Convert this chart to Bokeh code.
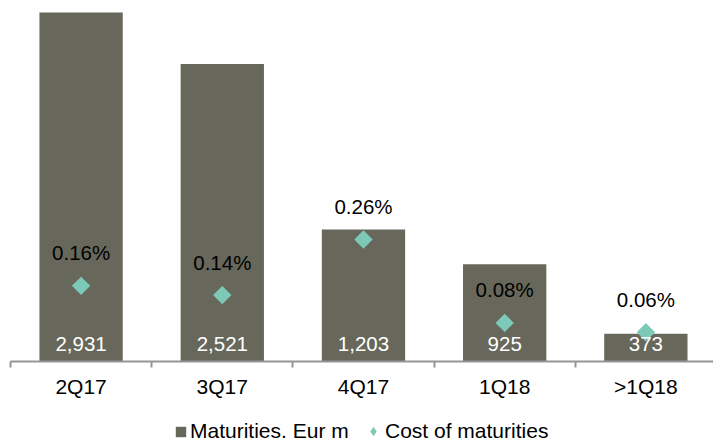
import numpy as np
from bokeh.plotting import figure
from bokeh.layouts import column
from bokeh.models import ColumnDataSource, Range1d, FixedTicker, Legend, LegendItem, LinearAxis
from bokeh.core.properties import value
from bokeh.embed import file_html
from bokeh.resources import INLINE

# ---- data ----
categories = ["2Q17", "3Q17", "4Q17", "1Q18", ">1Q18"]
maturities = [2931, 2521, 1203, 925, 373]          # Eur m
cost_pct = [0.16, 0.14, 0.26, 0.08, 0.06]           # %
series_names = ["Maturities. Eur m", "Cost of maturities"]

FONT = "Liberation Sans"
BAR = "#67675B"
TEAL = "#7DC9B8"
AXIS = "#959595"

x = list(range(len(categories)))
y_start = 151
src = ColumnDataSource(dict(
    x=x, mat=maturities, cost=cost_pct,
    base=[y_start] * len(x),
    mat_label=[f"{v:,}" for v in maturities],
    cost_label=[f"{c:.2f}%" for c in cost_pct],
))

H_MAIN = 412
p = figure(width=713, height=H_MAIN, output_backend="svg", toolbar_location=None,
           x_range=Range1d(-0.5, 4.479), y_range=Range1d(y_start, 3027),
           min_border_left=10, min_border_right=0, min_border_top=0,
           min_border_bottom=H_MAIN - 361,
           x_axis_location=None, y_axis_location=None)
p.extra_y_ranges = {"pct": Range1d(-0.0032, 0.7753)}
p.outline_line_color = None
p.grid.visible = False

p.vbar(x="x", top="mat", bottom="base", width=0.59, source=src,
       fill_color=BAR, line_color=None)
p.scatter(x="x", y="cost", source=src, y_range_name="pct", marker="square",
          angle=np.pi / 4, size=13, fill_color=TEAL, line_color=None)

p.text(x="x", y="base", text="mat_label", source=src, text_align="center",
       text_baseline="middle", y_offset=-18, text_color="white",
       text_font=value(FONT), text_font_size="20.5px")
p.text(x="x", y="cost", text="cost_label", source=src, y_range_name="pct",
       text_align="center", text_baseline="middle", y_offset=-33, text_color="black",
       text_font=value(FONT), text_font_size="20.5px")

xaxis = LinearAxis(ticker=FixedTicker(ticks=x, minor_ticks=[i - 0.5 for i in range(len(x) + 1)]),
                   major_label_overrides={i: c for i, c in enumerate(categories)})
xaxis.axis_line_color = AXIS
xaxis.axis_line_width = 2
xaxis.major_tick_line_color = None
xaxis.major_tick_out = 0
xaxis.major_tick_in = 0
xaxis.minor_tick_line_color = AXIS
xaxis.minor_tick_line_width = 2
xaxis.minor_tick_out = 6
xaxis.minor_tick_in = 0
xaxis.major_label_standoff = 7
xaxis.major_label_text_font = FONT
xaxis.major_label_text_font_size = "21px"
xaxis.major_label_text_color = "black"
p.add_layout(xaxis, "below")

# ---- legend strip (renderers share the data but lie outside this strip's view) ----
H_LEG = 444 - H_MAIN
lg = figure(width=713, height=H_LEG, output_backend="svg", toolbar_location=None,
            x_range=Range1d(-3, -2), y_range=Range1d(-3, -2),
            min_border_left=0, min_border_right=0, min_border_top=0, min_border_bottom=0,
            x_axis_location=None, y_axis_location=None)
lg.outline_line_color = None
lg.grid.visible = False
r_bar = lg.vbar(x="x", top="mat", bottom="base", width=0.59, source=src,
                fill_color=BAR, line_color=None)
r_dot = lg.scatter(x="x", y="cost", source=src, marker="diamond", size=13,
                   fill_color=TEAL, line_color=None)

common = dict(orientation="horizontal", padding=0, margin=0, border_line_color=None,
              background_fill_alpha=0, label_text_font=FONT, label_text_font_size="21px",
              label_text_color="black")
leg_a = Legend(items=[LegendItem(label=series_names[0], renderers=[r_bar])],
               location=(164, 1), glyph_width=13, glyph_height=13, label_standoff=3, **common)
leg_b = Legend(items=[LegendItem(label=series_names[1], renderers=[r_dot])],
               location=(351, 1), glyph_width=24, glyph_height=24, label_standoff=0, **common)
lg.add_layout(leg_a, "center")
lg.add_layout(leg_b, "center")

layout = column(p, lg, spacing=0)
open("out.html", "w").write(file_html(layout, INLINE))
